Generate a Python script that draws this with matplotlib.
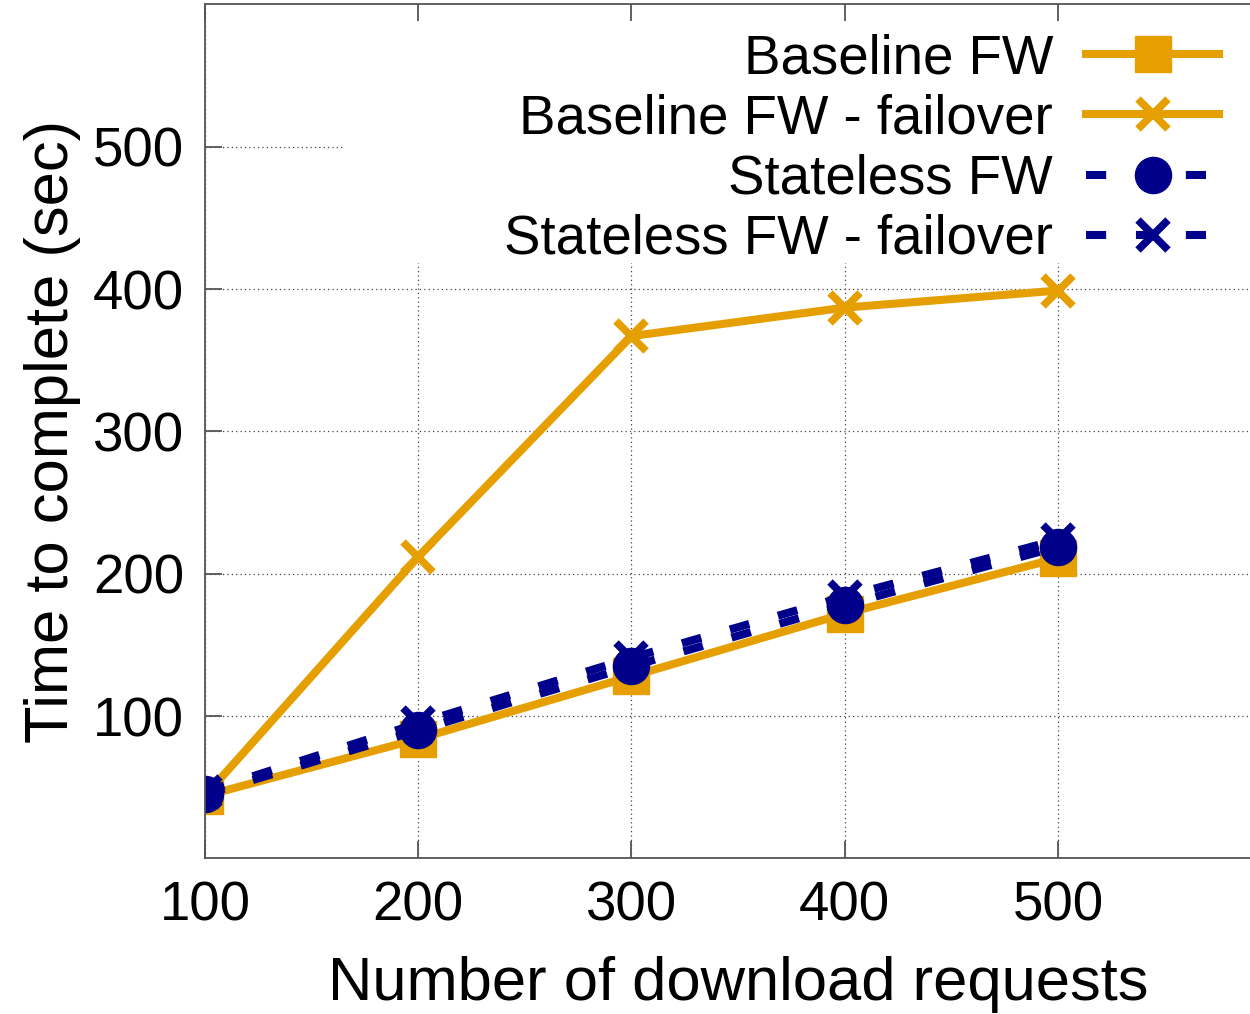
import matplotlib
matplotlib.use('Agg')
import matplotlib.pyplot as plt
from matplotlib.patches import Rectangle

# ---- data ----
requests = [100, 200, 300, 400, 500]
baseline = [44, 84, 128, 172, 211]
baseline_failover = [44, 212, 367, 387, 399]
stateless = [45, 90, 135, 178, 219]
stateless_failover = [47, 95, 141, 184, 224]
labels = ['Baseline FW', 'Baseline FW - failover', 'Stateless FW', 'Stateless FW - failover']
xticks = [100, 200, 300, 400, 500]
yticks = [100, 200, 300, 400, 500]
xlabel = 'Number of download requests'
ylabel = 'Time to complete (sec)'

ORANGE = '#E69F00'
NAVY = '#00008B'
AXC = '#555555'

plt.rcParams['font.family'] = ['Liberation Sans', 'DejaVu Sans']

fig = plt.figure(figsize=(12.5, 10.14), dpi=100)
ax = fig.add_axes([0.164, 0.1534, 0.853, 0.8422])
ax.set_xlim(100, 600)
ax.set_ylim(0, 600)

# grid from tick positions
for v in yticks:
    ax.axhline(v, color='#444444', lw=0.9, ls=(0, (1, 2.5)), zorder=0.4)
for v in xticks:
    ax.axvline(v, color='#444444', lw=0.9, ls=(0, (1, 2.5)), zorder=0.4)

# opaque key background
ax.add_patch(Rectangle((0.1313, 0.6973), 1 - 0.1313, 1 - 0.6973, transform=ax.transAxes,
                       facecolor='white', edgecolor='none', zorder=0.45))

lw = 5.8
dash = (0, (2.5, 3.7))
ax.plot(requests, baseline, color=ORANGE, lw=lw, marker='s', ms=26, label=labels[0], zorder=2)
ax.plot(requests, baseline_failover, color=ORANGE, lw=lw, marker='x', ms=22, mew=5.5,
        label=labels[1], zorder=2)
ax.plot(requests, stateless, color=NAVY, lw=lw, ls=dash, marker='o', ms=26,
        label=labels[2], zorder=2)
ax.plot(requests, stateless_failover, color=NAVY, lw=lw, ls=dash, marker='x', ms=22, mew=5.5,
        label=labels[3], zorder=2)

ax.set_xticks(xticks)
ax.set_yticks(yticks)
ax.tick_params(direction='in', length=12, width=1.3, color=AXC, labelsize=39.3,
               top=True, right=True)
ax.tick_params(axis='x', pad=16)
ax.tick_params(axis='y', pad=15)
for s in ax.spines.values():
    s.set_color(AXC)
    s.set_linewidth(1.3)

ax.set_xlabel(xlabel, fontsize=44.3, labelpad=17)
ax.set_ylabel(ylabel, fontsize=44.3, labelpad=9)

ax.legend(loc='upper right', bbox_to_anchor=(1, 1.027), markerfirst=False, frameon=False,
          fontsize=39.3, handlelength=2.45, handletextpad=0.6, borderaxespad=0,
          borderpad=0.95, labelspacing=0.15)

fig.savefig('out.png', dpi=100)
